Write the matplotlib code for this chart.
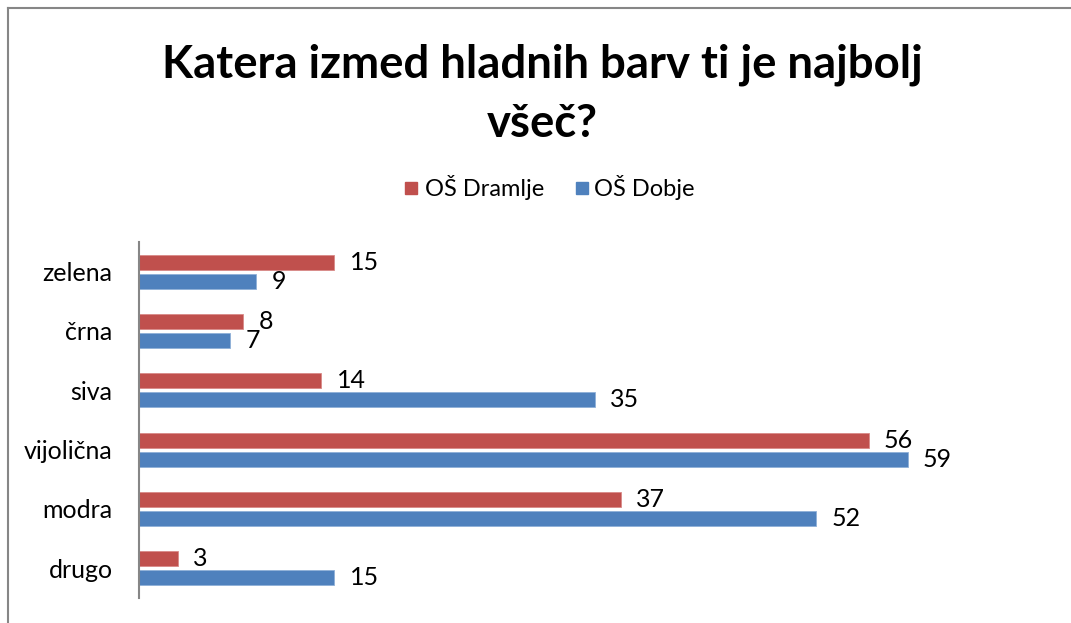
import matplotlib
matplotlib.use("Agg")
import matplotlib.pyplot as plt
from matplotlib.lines import Line2D
from matplotlib.patches import Rectangle
import numpy as np

plt.rcParams['font.family'] = ['Lato', 'DejaVu Sans']

categories = ["zelena", "črna", "siva", "vijolična", "modra", "drugo"]
dramlje = [15, 8, 14, 56, 37, 3]
dobje = [9, 7, 35, 59, 52, 15]
series_names = ["OŠ Dramlje", "OŠ Dobje"]
colors = ["#C0504D", "#4F81BD"]
title_lines = ["Katera izmed hladnih barv ti je najbolj", "všeč?"]

W, H = 1071, 623
fig = plt.figure(figsize=(W / 100, H / 100), dpi=100)
ax = fig.add_axes([139 / W, 1 - 598 / H, (1051 - 139) / W, (598 - 242) / H])

y = np.arange(len(categories))
bh = 0.25
off = 0.16
ax.barh(y - off, dramlje, height=bh, color=colors[0], edgecolor="#D98A88", linewidth=0.6)
ax.barh(y + off, dobje, height=bh, color=colors[1], edgecolor="#8FB0D8", linewidth=0.6)

ax.set_xlim(0, 70)
ax.set_ylim(len(categories) - 0.5, -0.5)

for yi, v in zip(y, dramlje):
    ax.annotate(str(v), (v, yi - off), xytext=(11, 0), textcoords="offset points",
                va="center", ha="left", fontsize=18)
for yi, v in zip(y, dobje):
    ax.annotate(str(v), (v, yi + off), xytext=(11, 0), textcoords="offset points",
                va="center", ha="left", fontsize=18)

ax.set_yticks(y)
ax.set_yticklabels(categories, fontsize=18)
ax.tick_params(axis="y", length=0, pad=19)
ax.set_xticks([])
for s in ["top", "right", "bottom"]:
    ax.spines[s].set_visible(False)
ax.spines["left"].set_color("#868686")
ax.spines["left"].set_linewidth(1.5)

# title: two lines with baselines at ~76px and ~136px
fig.text(542 / W, 1 - 77 / H, title_lines[0], ha="center", va="baseline", fontsize=32.8,
         fontweight="bold")
fig.text(542 / W, 1 - 137 / H, title_lines[1], ha="center", va="baseline", fontsize=32.8,
         fontweight="bold")

# legend
ly = 1 - 188 / H
fig.patches.append(Rectangle((405 / W, ly - 6 / H), 12 / W, 12 / H, transform=fig.transFigure,
                             color=colors[0]))
fig.text(425 / W, ly, series_names[0], fontsize=17, va="center", ha="left")
fig.patches.append(Rectangle((576 / W, ly - 6 / H), 12 / W, 12 / H, transform=fig.transFigure,
                             color=colors[1]))
fig.text(594 / W, ly, series_names[1], fontsize=17, va="center", ha="left")

# chart border (left and top)
bx, by = 7.5 / W, 1 - 7.5 / H
fig.add_artist(Line2D([bx, bx], [0, by], transform=fig.transFigure, color="#868686", lw=1.5))
fig.add_artist(Line2D([bx, 1], [by, by], transform=fig.transFigure, color="#868686", lw=1.5))

fig.savefig("out.png", dpi=100)
